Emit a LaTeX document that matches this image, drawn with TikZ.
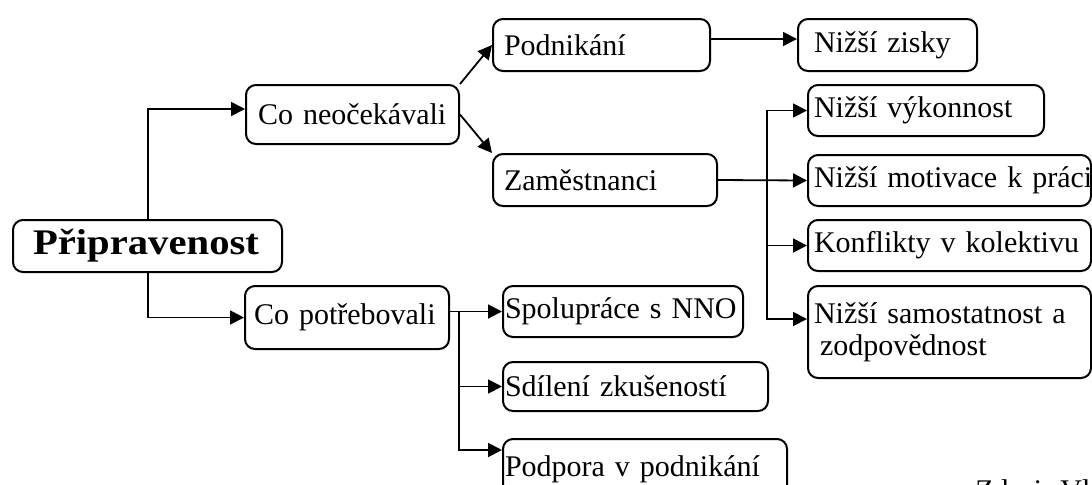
\documentclass[tikz,border=0pt]{standalone}
\usepackage{fontspec}
\setmainfont{Liberation Serif}
\newfontfamily\headfont{Liberation Serif}[FakeStretch=1.13]
\usetikzlibrary{arrows.meta}

\begin{document}
\begin{tikzpicture}[x=0.5pt,y=-0.5pt,
  box/.style={draw, line width=1pt, rounded corners=5pt, anchor=north west,
    align=left, inner ysep=0pt, font=\fontsize{15pt}{16pt}\selectfont},
  arr/.style={line width=0.9pt, -{Triangle[length=7pt,width=7pt]}},
  bus/.style={line width=0.9pt}]
\useasboundingbox (0,0) rectangle (1092,484);
\clip (0,0) rectangle (1092,484);

% root
\node[box, inner xsep=10pt, text width=114.5pt, minimum height=26pt,
      font=\headfont\bfseries\fontsize{18pt}{20pt}\selectfont]
  (P) at (12,219) {\mbox{Připravenost}};

% second level
\node[box, inner xsep=6pt,   text width=94.5pt, minimum height=29.5pt] (A) at (245,84)  {\mbox{Co neočekávali}};
\node[box, inner xsep=4.5pt, text width=93pt,   minimum height=31.5pt] (B) at (244,285) {\mbox{Co potřebovali}};

% third level
\node[box, inner xsep=5.5pt, text width=97.5pt,  minimum height=26pt] (C) at (492,18)  {\mbox{Podnikání}};
\node[box, inner xsep=5.5pt, text width=101pt,   minimum height=26pt] (D) at (492,153) {\mbox{Zaměstnanci}};
\node[box, inner xsep=1pt,   text width=118pt,   minimum height=25.5pt] (J) at (502,285) {\mbox{Spolupráce s NNO}};
\node[box, inner xsep=1pt,   text width=130.5pt, minimum height=24.5pt] (K) at (502,361) {\mbox{Sdílení zkušeností}};
\node[box, inner xsep=1pt,   text width=140pt,   minimum height=30pt]   (L) at (502,438) {\mbox{Podpora v podnikání}};

% outcomes
\node[box, inner xsep=8pt, text width=73.5pt,  minimum height=26pt]   (E) at (797,18)  {\mbox{Nižší zisky}};
\node[box, inner xsep=3pt, text width=112pt,   minimum height=25.5pt] (F) at (807,84)  {\mbox{Nižší výkonnost}};
\node[box, inner xsep=3pt, text width=135.5pt, minimum height=25.5pt] (G) at (807,154) {\mbox{Nižší motivace k práci}};
\node[box, inner xsep=3pt, text width=135.5pt, minimum height=25.5pt] (H) at (807,219) {\mbox{Konflikty v kolektivu}};
\node[box, inner xsep=3pt, text width=135.5pt, minimum height=46pt]   (I) at (807,285)
  {\mbox{Nižší samostatnost a}\\\hspace*{3pt}zodpovědnost};

% source line
\node[anchor=base west, inner sep=0pt, font=\fontsize{15pt}{16pt}\selectfont]
  (src) at (975,500) {Zdroj: Vlastní zpracování};

% connector helpers
\coordinate (Ain) at ([yshift=2.75pt]A.west);
\coordinate (Cout) at ([yshift=3pt]C.east);
\coordinate (Ein) at ([yshift=3pt]E.west);
\coordinate (Iin) at ([yshift=6.5pt]I.west);
\coordinate (Lin) at ([yshift=-6pt]L.north west);
\coordinate (rbus) at (767,0);
\coordinate (lbus) at (459,0);
\coordinate (pbus) at (148,0);

% root branches
\draw[arr] (P.north -| pbus) |- (Ain);
\draw[arr] (P.south -| pbus) |- (B.west);

% from "Co neočekávali"
\draw[arr] (A.north east) -- (C.west);
\draw[arr] (A.east) -- (D.north west);

% from "Podnikání"
\draw[arr] (Cout) -- (Ein);

% from "Zaměstnanci"
\draw[arr] (D.east) -- (G.west);
\draw[arr] (Iin -| rbus) |- (F.west);
\draw[arr] (F.west -| rbus) |- (Iin);
\draw[arr] (H.west -| rbus) -- (H.west);

% from "Co potřebovali"
\draw[arr] (B.east |- J.west) -- (J.west);
\draw[arr] (J.west -| lbus) |- (Lin);
\draw[arr] (K.west -| lbus) -- (K.west);
\end{tikzpicture}
\end{document}
